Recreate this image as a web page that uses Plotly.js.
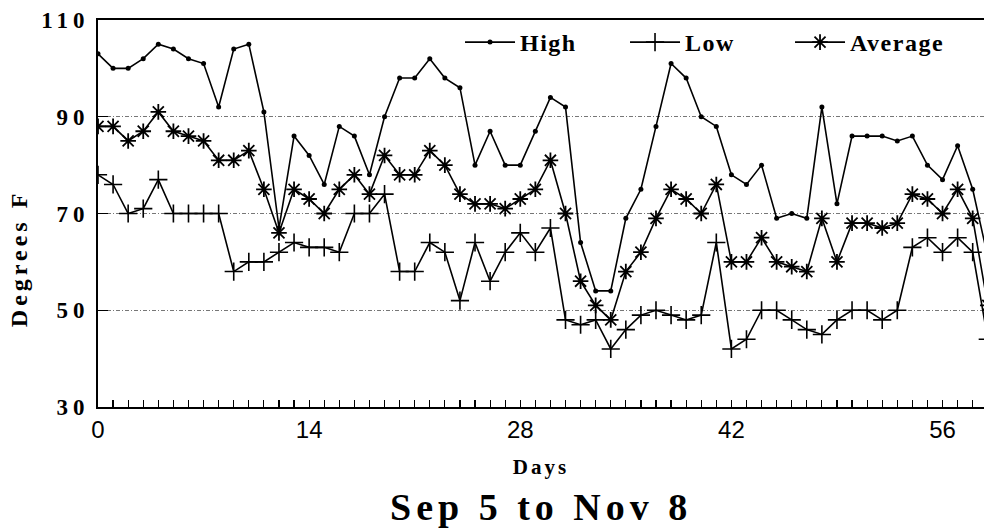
<!DOCTYPE html>
<html>
<head>
<meta charset="utf-8">
<script src="https://cdn.plot.ly/plotly-3.0.1.min.js"></script>
<style>
  html, body { margin: 0; padding: 0; background: #fff; }
  #chart { width: 984px; height: 532px; }
  .ytick text { letter-spacing: 5px; }
  .gtitle { letter-spacing: 5px; }
  .xtitle { letter-spacing: 3px; }
  .annotation-text { letter-spacing: 4px; }
  .legendtext { letter-spacing: 1.5px; }
</style>
</head>
<body>
<div id="chart"></div>
<script>
// Day index (0 = Sep 5)
const days = [0,1,2,3,4,5,6,7,8,9,10,11,12,13,14,15,16,17,18,19,20,21,22,23,24,25,26,27,28,29,
              30,31,32,33,34,35,36,37,38,39,40,41,42,43,44,45,46,47,48,49,50,51,52,53,54,55,56,57,58,59];

const highTemps = [103,100,100,102,105,104,102,101,92,104,105,91,67,86,82,76,88,86,78,90,
                   98,98,102,98,96,80,87,80,80,87,94,92,64,54,54,69,75,88,101,98,
                   90,88,78,76,80,69,70,69,92,72,86,86,86,85,86,80,77,84,75,61];

const lowTemps = [78,76,70,71,77,70,70,70,70,58,60,60,62,64,63,63,62,70,70,74,
                  58,58,64,62,52,64,56,62,66,62,67,48,47,48,42,46,49,50,49,48,
                  49,64,42,44,50,50,48,46,45,48,50,50,48,50,63,65,62,65,62,44];

const avgTemps = [88,88,85,87,91,87,86,85,81,81,83,75,66,75,73,70,75,78,74,82,
                  78,78,83,80,74,72,72,71,73,75,81,70,56,51,48,58,62,69,75,73,
                  70,76,60,60,65,60,59,58,69,60,68,68,67,68,74,73,70,75,69,51];

const xTickVals = [0,14,28,42,56];
const xTickText = ['0','14','28','42','56'];
const yTickVals = [30,50,70,90,110];
const yTickText = ['30','50','70','90','110'];

const serif = 'Liberation Serif, Times New Roman, serif';
const sans = 'Liberation Sans, Arial, sans-serif';

const traces = [
  {
    x: days, y: highTemps, name: 'High', type: 'scatter', mode: 'lines+markers',
    line: {color: '#000', width: 1.6},
    marker: {symbol: 'circle', size: 5, color: '#000'}
  },
  {
    x: days, y: lowTemps, name: 'Low', type: 'scatter', mode: 'lines+markers',
    line: {color: '#000', width: 1.6},
    marker: {symbol: 'cross-thin-open', size: 13, color: '#000', line: {color: '#000', width: 1.6}}
  },
  {
    x: days, y: avgTemps, name: 'Average', type: 'scatter', mode: 'lines+markers',
    line: {color: '#000', width: 1.6},
    marker: {symbol: 'asterisk-open', size: 13, color: '#000', line: {color: '#000', width: 1.8}}
  }
];

const layout = {
  width: 984, height: 532,
  margin: {l: 98, r: 0, t: 20, b: 125, pad: 0},
  paper_bgcolor: '#fff', plot_bgcolor: '#fff',
  showlegend: true,
  legend: {
    orientation: 'h', x: 0.4086, xanchor: 'left', y: 1.0, yanchor: 'top',
    bgcolor: 'rgba(0,0,0,0)', borderwidth: 0,
    font: {family: serif, size: 24, color: '#000', weight: 'bold'},
    itemwidth: 50, entrywidth: 100, entrywidthmode: 'pixels',
    traceorder: 'normal'
  },
  title: {
    text: 'Sep 5 to Nov 8',
    font: {family: serif, size: 38, color: '#000', weight: 'bold'},
    xref: 'container', yref: 'container', x: 0.55, y: 0.048,
    xanchor: 'center', yanchor: 'middle'
  },
  xaxis: {
    range: [0, 58.75], autorange: false,
    tickmode: 'array', tickvals: xTickVals, ticktext: xTickText,
    ticks: 'inside', ticklen: 7, tickwidth: 1.2, tickcolor: '#000',
    minor: {dtick: 1, tick0: 0, ticks: 'inside', ticklen: 7, tickwidth: 1.2, tickcolor: '#000', showgrid: false},
    showgrid: false, zeroline: false,
    showline: true, linecolor: '#000', linewidth: 2, mirror: true,
    tickfont: {family: sans, size: 24, color: '#000'},
    ticklabelstandoff: 0,
    title: {text: 'Days', font: {family: serif, size: 21, color: '#000', weight: 'bold'}, standoff: 18}
  },
  yaxis: {
    range: [30, 110], autorange: false,
    tickmode: 'array', tickvals: yTickVals, ticktext: yTickText,
    ticks: 'inside', ticklen: 10, tickwidth: 1.2, tickcolor: '#000',
    showgrid: true, gridcolor: '#777', gridwidth: 1, griddash: '4px,2px,1px,2px',
    zeroline: false,
    showline: true, linecolor: '#000', linewidth: 2,
    tickfont: {family: serif, size: 23, color: '#000', weight: 'bold'},
    ticklabelstandoff: 2
  },
  annotations: [{
    text: 'Degrees F', textangle: -90,
    xref: 'paper', yref: 'paper', x: -0.089, y: 0.385,
    xanchor: 'center', yanchor: 'middle', showarrow: false,
    font: {family: serif, size: 24, color: '#000', weight: 'bold'}
  }]
};

Plotly.newPlot('chart', traces, layout, {displayModeBar: false, staticPlot: true});
</script>
</body>
</html>
